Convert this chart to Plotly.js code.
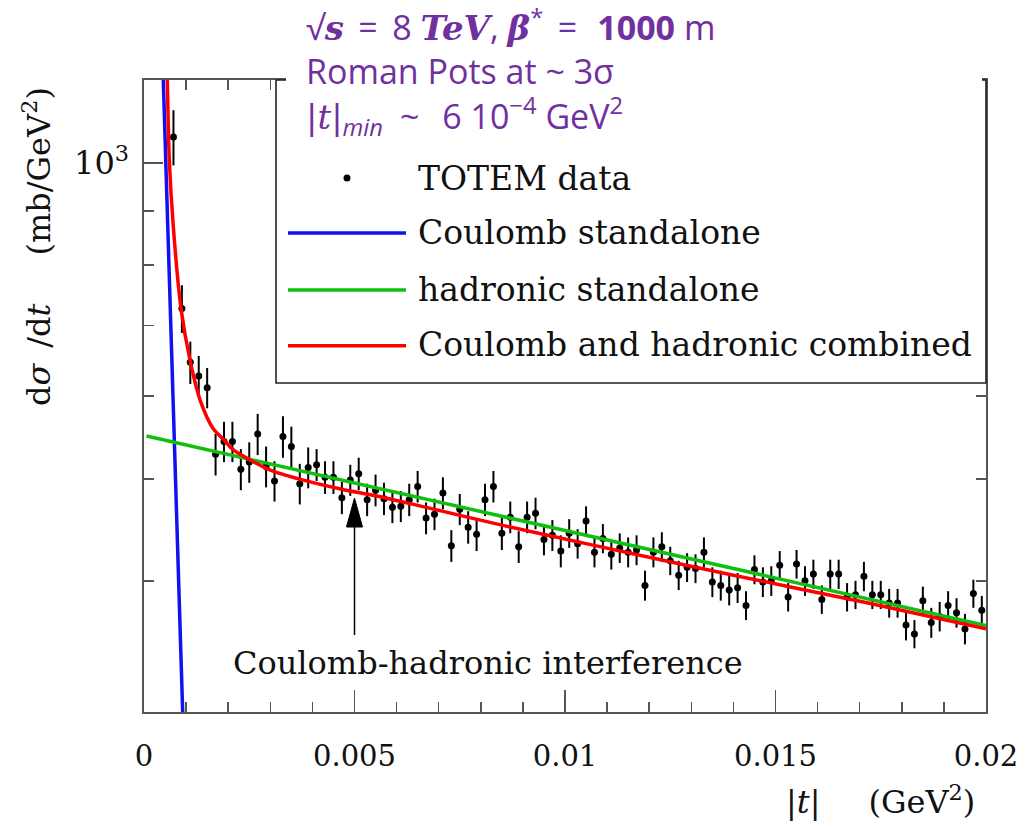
<!DOCTYPE html>
<html>
<head>
<meta charset="utf-8">
<script src="https://cdn.plot.ly/plotly-3.0.1.min.js"></script>
<style>html,body{margin:0;padding:0;background:#fff;}#chart{width:1025px;height:828px;}</style>
</head>
<body>
<div id="chart"></div>
<script>
// ---- data ----
const tVals = [0.0007,0.0009,0.0011,0.0013,0.0015,0.0017,0.0019,0.0021,0.0023,0.0025,
  0.0027,0.0029,0.0031,0.0033,0.0035,0.0037,0.0039,0.0041,0.0043,0.0045,
  0.0047,0.0049,0.0051,0.0053,0.0055,0.0057,0.0059,0.0061,0.0063,0.0065,
  0.0067,0.0069,0.0071,0.0073,0.0075,0.0077,0.0079,0.0081,0.0083,0.0085,
  0.0087,0.0089,0.0091,0.0093,0.0095,0.0097,0.0099,0.0101,0.0103,0.0105,
  0.0107,0.0109,0.0111,0.0113,0.0115,0.0117,0.0119,0.0121,0.0123,0.0125,
  0.0127,0.0129,0.0131,0.0133,0.0135,0.0137,0.0139,0.0141,0.0143,0.0145,
  0.0147,0.0149,0.0151,0.0153,0.0155,0.0157,0.0159,0.0161,0.0163,0.0165,
  0.0167,0.0169,0.0171,0.0173,0.0175,0.0177,0.0179,0.0181,0.0183,0.0185,
  0.0187,0.0189,0.0191,0.0193,0.0195,0.0197,0.0199];
const dsdt = [1059,727,646,627,611,528,543,543,511,519,
  552,514,498,549,537,495,513,516,502,502,
  480,499,506,478,488,479,470,471,478,492,
  459,463,485,432,468,450,443,478,492,444,
  460,431,460,464,438,442,427,444,434,456,
  426,439,424,430,426,428,396,426,431,418,
  405,412,411,426,399,396,392,394,379,410,
  399,400,414,386,415,400,406,384,406,406,
  386,388,404,388,388,381,381,363,356,383,
  365,370,379,373,360,389,375];
const dsdtErr = [64,38,30,28,27,24,24,24,23,23,
  25,23,22,25,24,22,23,18,18,18,
  17,17,18,17,17,17,16,16,17,17,
  16,16,17,15,16,16,16,17,17,16,
  16,15,16,16,15,15,15,14,14,15,
  14,14,14,14,14,14,13,14,14,13,
  13,13,13,14,13,13,13,13,12,13,
  13,13,13,12,13,13,13,12,13,13,
  12,12,13,12,12,12,12,12,11,12,
  12,12,12,12,12,12,12];

const coulombT = [0.000444,0.000458,0.000582,0.000691,0.000800,0.000919,0.000941];
const coulombY = [1253,1200,826,595,428,300,282];

const hadronicT = [0.00006,0.0068,0.02];
const hadronicY = [549.5,477.6,362.7];

const combinedT = [0.000542,0.000553,0.000601,0.000696,0.000879,0.001093,0.00133,0.00165,
  0.0019,0.0021,0.0025,0.003,0.0037,0.0047,0.0055,0.0066,0.0085,0.0105,0.014,0.0172,0.02];
const combinedY = [1253,1200,1007,870,727,649,595,558,
  545,534,522,510,500,489,482,471,452,434,405,381,360];

const xTickVals = [0,0.005,0.01,0.015,0.02];
const xTickText = ['0','0.005','0.01','0.015','0.02'];
const yTickVals = [1000];
const yTickText = ['10<sup>3</sup>'];
const yMinorVals = [400,500,600,700,800,900];

const legendLabels = ['TOTEM data','Coulomb standalone','hadronic standalone','Coulomb and hadronic combined'];
const lineColors = {coulomb:'#1010f0', hadronic:'#10c010', combined:'#ff0000'};

// ---- traces ----
const traces = [
  {x:tVals, y:dsdt, type:'scatter', mode:'markers', name:legendLabels[0],
   marker:{color:'#000', size:7},
   error_y:{type:'data', array:dsdtErr, visible:true, color:'#000', thickness:2, width:0}},
  {x:coulombT, y:coulombY, type:'scatter', mode:'lines', name:legendLabels[1],
   line:{color:lineColors.coulomb, width:3.5, shape:'spline'}},
  {x:hadronicT, y:hadronicY, type:'scatter', mode:'lines', name:legendLabels[2],
   line:{color:lineColors.hadronic, width:3.5}},
  {x:combinedT, y:combinedY, type:'scatter', mode:'lines', name:legendLabels[3],
   line:{color:lineColors.combined, width:3.5, shape:'spline', smoothing:0.8}}
];

// helpers to place decorations in paper coordinates of the 1025x828 frame
const L = 144, R = 986, T = 80, B = 712;
const px = v => (v - L) / (R - L);
const py = v => (B - v) / (B - T);

const serif = 'DejaVu Serif, Liberation Serif, serif';
const purple = '#7030a0';
const axisCol = '#555';

const shapes = [
  // legend box
  {type:'rect', xref:'paper', yref:'paper', x0:px(276), x1:px(986), y0:py(383), y1:py(80),
   fillcolor:'#fff', line:{color:'#222', width:1.6}, layer:'above'},
  // white band hiding the box top (under the purple text)
  {type:'rect', xref:'paper', yref:'paper', x0:px(286), x1:px(982), y0:py(86), y1:py(70),
   fillcolor:'#fff', line:{width:0}, layer:'above'},
  // legend samples
  {type:'circle', xref:'paper', yref:'paper', x0:px(343.5), x1:px(350.5), y0:py(181.5), y1:py(174.5),
   fillcolor:'#000', line:{width:0}, layer:'above'},
  {type:'line', xref:'paper', yref:'paper', x0:px(288), x1:px(406), y0:py(233), y1:py(233),
   line:{color:lineColors.coulomb, width:3.5}, layer:'above'},
  {type:'line', xref:'paper', yref:'paper', x0:px(288), x1:px(406), y0:py(290), y1:py(290),
   line:{color:lineColors.hadronic, width:3.5}, layer:'above'},
  {type:'line', xref:'paper', yref:'paper', x0:px(288), x1:px(406), y0:py(345.7), y1:py(345.7),
   line:{color:lineColors.combined, width:3.5}, layer:'above'},
  // interference arrow at |t| = 0.005
  {type:'line', xref:'x', yref:'paper', x0:0.005, x1:0.005, y0:py(635), y1:py(522),
   line:{color:'#000', width:1.5}, layer:'above'},
  {type:'path', xref:'x', yref:'paper',
   path:`M 0.00481,${py(527)} L 0.005,${py(498)} L 0.00519,${py(527)} Z`,
   fillcolor:'#000', line:{color:'#000', width:1}, layer:'above'}
];

const legendTextY = [178, 233, 289, 344];
const annotations = legendLabels.map((s, i) => ({
  text:s, xref:'paper', yref:'paper', x:px(416), y:py(legendTextY[i]),
  xanchor:'left', yanchor:'middle', showarrow:false,
  font:{family:serif, size:33, color:'#111'}
}));

const mathSpan = s => `<span style="font-family:DejaVu Serif">${s}</span>`;
const th = '\u2009';
const infoLines = [
  `√${mathSpan('<b><i>s</i></b>')}${th} =${th} 8 ${mathSpan('<b><i>TeV</i></b>')}, ${mathSpan('<b><i>β</i></b>')}<sup>*</sup>${th} =${th}${th} <b>1000</b> m`,
  'Roman Pots at ~ 3σ',
  `${mathSpan('|<i>t</i>|')}<sub><i>min</i></sub>\u2002~\u2002${th}6 10<sup>−4</sup> GeV<sup>2</sup>`
];
annotations.push(
  {text:infoLines.join('<br>'), align:'left',
   xref:'paper', yref:'paper', x:px(304), y:py(72), xanchor:'left', yanchor:'middle', showarrow:false,
   font:{family:'Open Sans, Noto Sans, sans-serif', size:34, color:purple}},
  {text:'Coulomb-hadronic interference',
   xref:'paper', yref:'paper', x:px(488), y:py(663), xanchor:'center', yanchor:'middle', showarrow:false,
   font:{family:serif, size:32, color:'#111'}},
  {text:'d<i>σ</i>\u2002/d<i>t</i>\u2003\u2002(mb/GeV<sup>2</sup>)',
   xref:'paper', yref:'paper', x:px(37), y:py(247), xanchor:'center', yanchor:'middle', showarrow:false,
   textangle:-90, font:{family:serif, size:32, color:'#111'}},
  {text:'|<i>t</i>|\u2003\u2002(GeV<sup>2</sup>)',
   xref:'paper', yref:'paper', x:px(977), y:py(800), xanchor:'right', yanchor:'middle', showarrow:false,
   font:{family:serif, size:32, color:'#111'}}
);

const layout = {
  width:1025, height:828,
  margin:{l:L, r:1025-R, t:T, b:828-B, pad:0},
  paper_bgcolor:'#fff', plot_bgcolor:'#fff',
  showlegend:false,
  xaxis:{range:[0,0.02], showgrid:false, zeroline:false,
    showline:true, linecolor:axisCol, linewidth:1.6, mirror:'ticks',
    ticks:'inside', ticklen:22, tickwidth:1.5, tickcolor:axisCol,
    tickmode:'array', tickvals:xTickVals, ticktext:xTickText,
    tickfont:{family:serif, size:29, color:'#111'}, ticklabelstandoff:18,
    minor:{tickmode:'linear', tick0:0, dtick:0.001, ticks:'inside', ticklen:10, tickwidth:1.5, tickcolor:axisCol, showgrid:false}},
  yaxis:{type:'log', range:[Math.log10(300), Math.log10(1200)], showgrid:false, zeroline:false,
    showline:true, linecolor:axisCol, linewidth:1.6, mirror:'ticks',
    ticks:'inside', ticklen:19, tickwidth:1.5, tickcolor:axisCol,
    tickmode:'array', tickvals:yTickVals, ticktext:yTickText,
    tickfont:{family:serif, size:32, color:'#111'}, ticklabelstandoff:7,
    minor:{tickmode:'array', tickvals:yMinorVals, ticks:'inside', ticklen:10, tickwidth:1.5, tickcolor:axisCol, showgrid:false}},
  shapes:shapes,
  annotations:annotations
};

Plotly.newPlot('chart', traces, layout, {staticPlot:true, displayModeBar:false});
</script>
</body>
</html>
